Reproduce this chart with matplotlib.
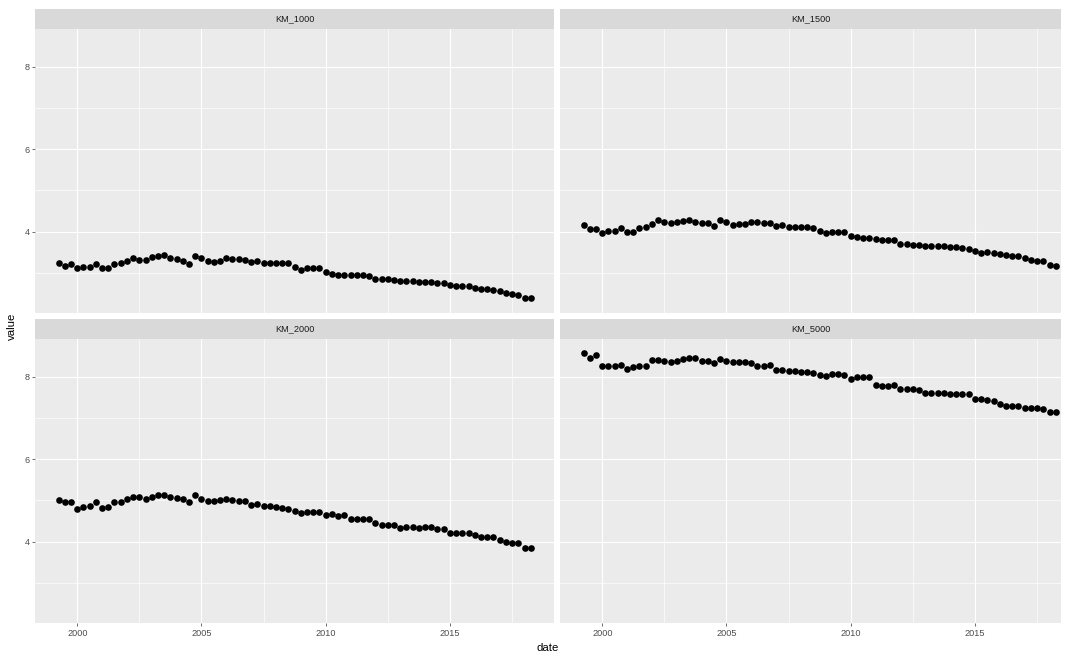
import numpy as np
import pandas as pd
import matplotlib
matplotlib.use("Agg")
import matplotlib.pyplot as plt

plt.rcParams["font.family"] = ["Liberation Sans", "DejaVu Sans"]

# quarterly observations, 1999 Q2 .. 2018 Q2
dates = pd.date_range("1999-04-01", "2018-04-01", freq="QS")

km_1000 = [3.23, 3.17, 3.22,
           3.12, 3.14, 3.15, 3.21,
           3.13, 3.11, 3.22, 3.25,
           3.29, 3.36, 3.31, 3.31,
           3.38, 3.41, 3.43, 3.35,
           3.33, 3.30, 3.21, 3.42,
           3.35, 3.28, 3.27, 3.28,
           3.35, 3.33, 3.33, 3.31,
           3.27, 3.30, 3.25, 3.25,
           3.23, 3.23, 3.23, 3.14,
           3.07, 3.11, 3.11, 3.11,
           3.01, 2.97, 2.95, 2.95,
           2.95, 2.94, 2.94, 2.93,
           2.86, 2.86, 2.85, 2.83,
           2.80, 2.80, 2.80, 2.79,
           2.78, 2.77, 2.76, 2.75,
           2.70, 2.68, 2.67, 2.67,
           2.64, 2.62, 2.60, 2.59,
           2.56, 2.51, 2.49, 2.47,
           2.38, 2.38]

km_1500 = [4.15, 4.07, 4.07,
           3.97, 4.01, 4.02, 4.10,
           3.99, 3.98, 4.10, 4.12,
           4.19, 4.27, 4.23, 4.21,
           4.24, 4.26, 4.28, 4.23,
           4.22, 4.22, 4.14, 4.29,
           4.23, 4.16, 4.18, 4.19,
           4.24, 4.23, 4.22, 4.22,
           4.14, 4.16, 4.11, 4.11,
           4.12, 4.11, 4.10, 4.02,
           3.96, 3.98, 3.98, 3.98,
           3.90, 3.86, 3.84, 3.85,
           3.81, 3.80, 3.80, 3.79,
           3.71, 3.71, 3.68, 3.67,
           3.64, 3.64, 3.64, 3.64,
           3.63, 3.62, 3.60, 3.58,
           3.52, 3.49, 3.50, 3.49,
           3.46, 3.44, 3.42, 3.40,
           3.35, 3.31, 3.30, 3.29,
           3.18, 3.17]

km_2000 = [5.01, 4.96, 4.95,
           4.79, 4.85, 4.86, 4.95,
           4.81, 4.83, 4.95, 4.96,
           5.04, 5.09, 5.09, 5.04,
           5.07, 5.12, 5.12, 5.08,
           5.06, 5.04, 4.96, 5.12,
           5.04, 4.98, 4.99, 5.01,
           5.03, 5.00, 4.99, 4.98,
           4.88, 4.92, 4.86, 4.86,
           4.83, 4.81, 4.80, 4.74,
           4.70, 4.72, 4.72, 4.72,
           4.65, 4.66, 4.62, 4.64,
           4.54, 4.54, 4.54, 4.54,
           4.44, 4.41, 4.40, 4.40,
           4.34, 4.35, 4.35, 4.34,
           4.35, 4.35, 4.30, 4.30,
           4.22, 4.20, 4.22, 4.20,
           4.15, 4.12, 4.11, 4.11,
           4.03, 3.99, 3.97, 3.96,
           3.85, 3.85]

km_5000 = [8.58, 8.45, 8.53,
           8.26, 8.26, 8.27, 8.29,
           8.19, 8.23, 8.27, 8.27,
           8.40, 8.40, 8.38, 8.35,
           8.37, 8.42, 8.45, 8.44,
           8.38, 8.39, 8.32, 8.43,
           8.37, 8.35, 8.35, 8.35,
           8.33, 8.26, 8.27, 8.29,
           8.15, 8.15, 8.14, 8.13,
           8.12, 8.11, 8.10, 8.04,
           8.02, 8.06, 8.07, 8.04,
           7.94, 8.00, 8.00, 8.00,
           7.80, 7.78, 7.78, 7.80,
           7.71, 7.70, 7.70, 7.68,
           7.61, 7.61, 7.61, 7.61,
           7.59, 7.58, 7.57, 7.57,
           7.46, 7.46, 7.44, 7.42,
           7.33, 7.30, 7.30, 7.30,
           7.24, 7.24, 7.24, 7.21,
           7.14, 7.14]

panels = ["KM_1000", "KM_1500", "KM_2000", "KM_5000"]
series = [km_1000, km_1500, km_2000, km_5000]

x_major = [2000, 2005, 2010, 2015]
x_minor = [2002.5, 2007.5, 2012.5, 2017.5]
y_major = [4, 6, 8]
y_minor = [3, 5, 7]

# dates -> decimal years
t = dates.year + (dates.dayofyear - 1) / 365.25

W, H = 1067, 656
fig = plt.figure(figsize=(W / 100, H / 100), dpi=100)

PANEL_BG = "#EBEBEB"
STRIP_BG = "#D9D9D9"

# pixel boxes (left, right) and (top, bottom)
cols = [(35, 554), (560, 1061)]
rows = [(28.7, 313.3), (338.7, 623.3)]
strip_h = 20
px_per_year = 24.85
x_start = 1998.3
ylim = (2.02, 8.92)


def fig_box(x0, x1, y0, y1):
    return [x0 / W, 1 - y1 / H, (x1 - x0) / W, (y1 - y0) / H]


for i, (name, vals) in enumerate(zip(panels, series)):
    r, c = divmod(i, 2)
    x0, x1 = cols[c]
    y0, y1 = rows[r]

    ax = fig.add_axes(fig_box(x0, x1, y0, y1))
    ax.set_facecolor(PANEL_BG)
    for s in ax.spines.values():
        s.set_visible(False)
    ax.set_xlim(x_start, x_start + (x1 - x0) / px_per_year)
    ax.set_ylim(*ylim)

    for v in x_minor:
        ax.axvline(v, color="white", lw=0.45, zorder=0)
    for v in y_minor:
        ax.axhline(v, color="white", lw=0.45, zorder=0)
    for v in x_major:
        ax.axvline(v, color="white", lw=0.85, zorder=0)
    for v in y_major:
        ax.axhline(v, color="white", lw=0.85, zorder=0)

    ax.scatter(t, vals, s=23, color="black", linewidths=0, zorder=3)

    ax.set_xticks(x_major)
    ax.set_yticks(y_major)
    ax.tick_params(axis="both", length=2.0, width=0.5, color="#333333",
                   labelsize=6.6, labelcolor="#4D4D4D", pad=1.8)
    ax.set_xticklabels([str(v) for v in x_major])
    ax.set_yticklabels([str(v) for v in y_major])
    if r == 0:
        ax.tick_params(axis="x", length=0, labelbottom=False)
    if c == 1:
        ax.tick_params(axis="y", length=0, labelleft=False)

    sax = fig.add_axes(fig_box(x0, x1, y0 - strip_h, y0))
    sax.set_facecolor(STRIP_BG)
    sax.set_xticks([])
    sax.set_yticks([])
    for s in sax.spines.values():
        s.set_visible(False)
    sax.text(0.5, 0.5, name, ha="center", va="center", fontsize=6.6,
             color="#1A1A1A", transform=sax.transAxes)

fig.text(548 / W, 1 - 648 / H, "date", ha="center", va="center", fontsize=8.2)
fig.text(12 / W, 1 - 326 / H, "value", ha="center", va="center",
         rotation=90, fontsize=8.2)

fig.savefig("out.png", dpi=100, facecolor="white")
